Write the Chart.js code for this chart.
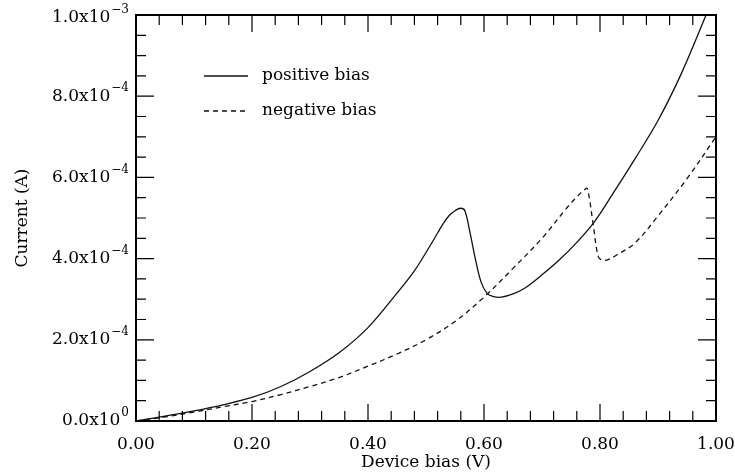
<!DOCTYPE html>
<html lang="en">
<head>
    <meta charset="UTF-8">
    <title>Device current vs bias</title>
    <script src="https://cdn.jsdelivr.net/npm/chart.js"></script>
    <style>
        body, html {
            margin: 0;
            background: #fff;
        }
        .chart-container {
            width: 735px;
            height: 474px;
        }
    </style>
</head>
<body>
    <div class="chart-container">
        <canvas id="ivChart"></canvas>
    </div>
    <script>
        // data (V, A)
        const posBias = [0, 0.05, 0.10, 0.15, 0.20, 0.25, 0.30, 0.35, 0.40, 0.45, 0.48, 0.50, 0.52, 0.53, 0.54, 0.55, 0.56, 0.567, 0.575, 0.585, 0.595, 0.605, 0.615, 0.63, 0.65, 0.67, 0.70, 0.73, 0.76, 0.79, 0.82, 0.86, 0.90, 0.94, 0.98, 1.00];
        const posCurrent = [0, 0.12e-4, 0.25e-4, 0.40e-4, 0.58e-4, 0.85e-4, 1.22e-4, 1.68e-4, 2.30e-4, 3.15e-4, 3.70e-4, 4.15e-4, 4.63e-4, 4.87e-4, 5.06e-4, 5.18e-4, 5.24e-4, 5.18e-4, 4.70e-4, 4.00e-4, 3.42e-4, 3.15e-4, 3.07e-4, 3.05e-4, 3.13e-4, 3.27e-4, 3.60e-4, 3.97e-4, 4.40e-4, 4.90e-4, 5.55e-4, 6.45e-4, 7.40e-4, 8.55e-4, 9.90e-4, 10.6e-4];

        const negBias = [0, 0.05, 0.10, 0.15, 0.20, 0.25, 0.30, 0.35, 0.40, 0.45, 0.50, 0.55, 0.60, 0.65, 0.70, 0.74, 0.76, 0.772, 0.778, 0.788, 0.797, 0.805, 0.815, 0.83, 0.86, 0.90, 0.95, 1.00];
        const negCurrent = [0, 0.10e-4, 0.22e-4, 0.35e-4, 0.48e-4, 0.65e-4, 0.85e-4, 1.07e-4, 1.35e-4, 1.65e-4, 2.00e-4, 2.45e-4, 3.05e-4, 3.76e-4, 4.50e-4, 5.20e-4, 5.52e-4, 5.68e-4, 5.73e-4, 4.87e-4, 4.05e-4, 3.96e-4, 3.98e-4, 4.10e-4, 4.38e-4, 5.05e-4, 5.97e-4, 7.00e-4];

        const xTickLabels = ['0.00', '0.20', '0.40', '0.60', '0.80', '1.00'];
        const yTickValues = [0, 2e-4, 4e-4, 6e-4, 8e-4, 1e-3];
        const yTickMantissa = ['0.0x10', '2.0x10', '4.0x10', '6.0x10', '8.0x10', '1.0x10'];
        const yTickExponent = ['0', '\u22124', '\u22124', '\u22124', '\u22124', '\u22123'];

        const FONT = '"DejaVu Serif", "Liberation Serif", serif';

        function toPoints(xs, ys) {
            return xs.map((x, i) => ({ x: x, y: ys[i] }));
        }

        // frame, inward ticks on all four sides, y labels with exponents, legend
        const framePlugin = {
            id: 'frame',
            afterDraw(chart) {
                const ctx = chart.ctx;
                const a = chart.chartArea;
                const xs = chart.scales.x;
                const ys = chart.scales.y;
                ctx.save();
                ctx.strokeStyle = '#000';
                ctx.lineWidth = 2;
                ctx.strokeRect(a.left, a.top, a.right - a.left, a.bottom - a.top);

                ctx.lineWidth = 1.2;
                ctx.beginPath();
                for (let i = 0; i <= 25; i++) {
                    const px = xs.getPixelForValue(i * 0.04);
                    const len = (i % 5 === 0) ? 17 : 10;
                    ctx.moveTo(px, a.bottom); ctx.lineTo(px, a.bottom - len);
                    ctx.moveTo(px, a.top); ctx.lineTo(px, a.top + len);
                }
                for (let i = 0; i <= 20; i++) {
                    const py = ys.getPixelForValue(i * 0.5e-4);
                    const len = (i % 4 === 0) ? 18 : 10;
                    ctx.moveTo(a.left, py); ctx.lineTo(a.left + len, py);
                    ctx.moveTo(a.right, py); ctx.lineTo(a.right - len, py);
                }
                ctx.stroke();

                // y tick labels: mantissa plus raised exponent
                ctx.fillStyle = '#000';
                ctx.textBaseline = 'middle';
                ctx.textAlign = 'right';
                const xr = a.left - 7;
                yTickValues.forEach((v, i) => {
                    const py = ys.getPixelForValue(v) + (i === yTickValues.length - 1 ? 3 : 0);
                    ctx.font = '12px ' + FONT;
                    const ew = ctx.measureText(yTickExponent[i]).width;
                    ctx.fillText(yTickExponent[i], xr, py - 8);
                    ctx.font = '17px ' + FONT;
                    ctx.fillText(yTickMantissa[i], xr - ew - 1, py);
                });

                // legend
                ctx.textAlign = 'left';
                ctx.font = '17px ' + FONT;
                chart.data.datasets.forEach((ds, i) => {
                    const y = 76 + i * 35;
                    ctx.beginPath();
                    ctx.lineWidth = ds.borderWidth;
                    ctx.strokeStyle = ds.borderColor;
                    ctx.setLineDash(ds.borderDash || []);
                    ctx.moveTo(204, y); ctx.lineTo(248, y);
                    ctx.stroke();
                    ctx.setLineDash([]);
                    ctx.fillText(ds.label, 262, y);
                });
                ctx.restore();
            }
        };

        const ctx = document.getElementById('ivChart').getContext('2d');
        new Chart(ctx, {
            type: 'line',
            data: {
                datasets: [{
                    label: 'positive bias',
                    data: toPoints(posBias, posCurrent),
                    borderColor: '#111',
                    borderWidth: 1.3,
                    pointRadius: 0,
                    tension: 0.35
                }, {
                    label: 'negative bias',
                    data: toPoints(negBias, negCurrent),
                    borderColor: '#111',
                    borderWidth: 1.3,
                    borderDash: [5, 4],
                    pointRadius: 0,
                    tension: 0.35
                }]
            },
            options: {
                responsive: true,
                maintainAspectRatio: false,
                animation: false,
                layout: { padding: { top: 15, right: 19, left: 0, bottom: 0 } },
                plugins: {
                    legend: { display: false },
                    tooltip: { enabled: false }
                },
                scales: {
                    x: {
                        type: 'linear',
                        min: 0,
                        max: 1,
                        grid: { display: false },
                        border: { display: false },
                        afterBuildTicks(scale) {
                            scale.ticks = xTickLabels.map(t => ({ value: parseFloat(t) }));
                        },
                        afterFit(scale) {
                            scale.height = 53;
                            scale.paddingLeft = 0;
                            scale.paddingRight = 0;
                        },
                        ticks: {
                            color: '#000',
                            padding: 5,
                            maxRotation: 0,
                            font: { family: FONT, size: 17 },
                            callback: (v, i) => xTickLabels[i]
                        },
                        title: {
                            display: true,
                            text: 'Device bias (V)',
                            color: '#000',
                            padding: { top: 0, bottom: 1 },
                            font: { family: FONT, size: 17 }
                        }
                    },
                    y: {
                        min: 0,
                        max: 1e-3,
                        grid: { display: false },
                        border: { display: false },
                        afterBuildTicks(scale) {
                            scale.ticks = yTickValues.map(v => ({ value: v }));
                        },
                        afterFit(scale) {
                            scale.width = 136;
                            scale.paddingTop = 0;
                            scale.paddingBottom = 0;
                        },
                        ticks: { display: false },
                        title: {
                            display: true,
                            text: 'Current (A)',
                            color: '#000',
                            padding: { top: 12, bottom: 0 },
                            font: { family: FONT, size: 17 }
                        }
                    }
                }
            },
            plugins: [framePlugin]
        });
    </script>
</body>
</html>
